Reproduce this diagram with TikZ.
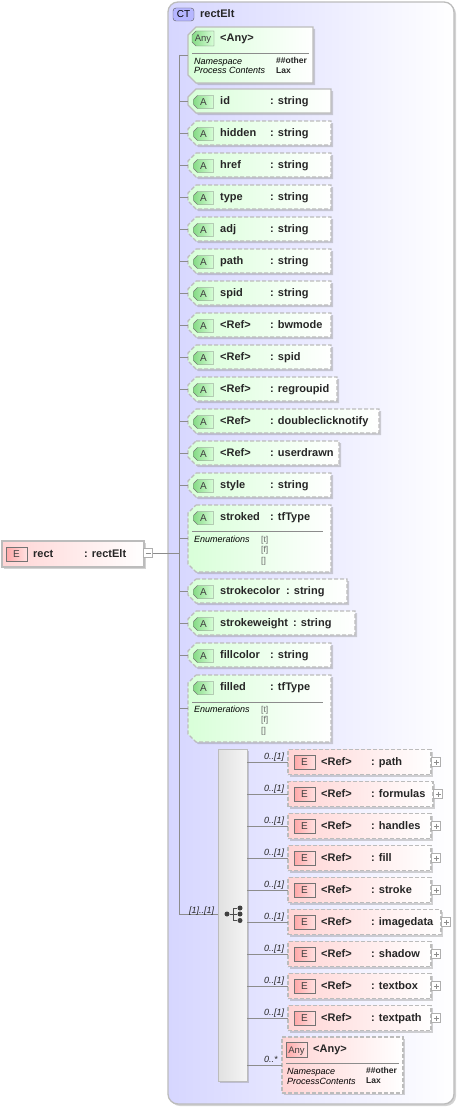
\documentclass[tikz,border=0pt]{standalone}
\usepackage{fontspec}
\setmainfont{Liberation Sans}
\usepackage{xcolor}
\usetikzlibrary{shadows}
\definecolor{edgeGray}{HTML}{BCBCBC}
\definecolor{lineGray}{HTML}{8C8C8C}
\definecolor{lavender}{HTML}{D6D6FF}
\definecolor{paleGreen}{HTML}{D8FFD8}
\definecolor{palePink}{HTML}{FFD4D4}
\definecolor{badgeGreen}{HTML}{86DA86}
\definecolor{badgePink}{HTML}{FFA8A8}
\definecolor{inkDark}{HTML}{262626}

% box with the two left corners cut off
\tikzset{cutSize/.store in=\tagCut, cutSize=8pt}
\makeatletter
\pgfdeclareshape{tagBox}{
  \inheritsavedanchors[from=rectangle]
  \inheritanchorborder[from=rectangle]
  \inheritanchor[from=rectangle]{center}
  \inheritanchor[from=rectangle]{north}
  \inheritanchor[from=rectangle]{south}
  \inheritanchor[from=rectangle]{west}
  \inheritanchor[from=rectangle]{east}
  \inheritanchor[from=rectangle]{base}
  \backgroundpath{
    \southwest \pgf@xa=\pgf@x \pgf@ya=\pgf@y
    \northeast \pgf@xb=\pgf@x \pgf@yb=\pgf@y
    \pgf@xc=\pgf@xa \advance\pgf@xc by \tagCut
    \pgf@yc=\pgf@ya \advance\pgf@yc by \tagCut
    \pgf@yd=\pgf@yb \advance\pgf@yd by -\tagCut
    \pgfpathmoveto{\pgfqpoint{\pgf@xc}{\pgf@yb}}
    \pgfpathlineto{\pgfqpoint{\pgf@xb}{\pgf@yb}}
    \pgfpathlineto{\pgfqpoint{\pgf@xb}{\pgf@ya}}
    \pgfpathlineto{\pgfqpoint{\pgf@xc}{\pgf@ya}}
    \pgfpathlineto{\pgfqpoint{\pgf@xa}{\pgf@yc}}
    \pgfpathlineto{\pgfqpoint{\pgf@xa}{\pgf@yd}}
    \pgfpathclose
  }
}
\makeatother

\begin{document}
\begin{tikzpicture}[x=1pt, y=-1pt,
    softShadow/.style={drop shadow={shadow xshift=2pt, shadow yshift=-2pt, fill=gray, opacity=0.35}},
    ctBox/.style={rectangle, draw=edgeGray, line width=1.3pt, rounded corners=10pt, left color=lavender, right color=white, softShadow, minimum width=286pt, minimum height=1102pt, anchor=north west, inner sep=0pt, outer sep=0pt},
    ctBadge/.style={rectangle, draw=black!65, fill=lavender!85!blue, rounded corners=3pt, minimum width=21pt, minimum height=13pt, inner sep=0pt, text height=7pt, text depth=0pt, font=\fontsize{10}{12}\selectfont},
    attr/.style={tagBox, cutSize=8pt, draw=edgeGray, line width=1.1pt, left color=paleGreen, right color=white, softShadow, minimum height=24pt, anchor=west, inner sep=0pt, outer sep=0pt},
    attrOpt/.style={attr, dash pattern=on 4pt off 2pt},
    attrBadge/.style={tagBox, cutSize=4pt, draw=black!55, left color=badgeGreen, right color=paleGreen, minimum width=20pt, minimum height=13pt, inner sep=0pt, outer sep=0pt, text height=7pt, text depth=0pt, text=black!75, font=\fontsize{10}{12}\selectfont},
    refBox/.style={rectangle, draw=edgeGray, line width=1.1pt, dash pattern=on 4pt off 2pt, left color=palePink, right color=white, softShadow, minimum height=25pt, anchor=west, inner sep=0pt, outer sep=0pt},
    elemBadge/.style={rectangle, draw=black!55, left color=badgePink, right color=palePink!70, minimum width=21pt, minimum height=14pt, inner sep=0pt, text height=7pt, text depth=0pt, text=black!75, font=\fontsize{10}{12}\selectfont},
    elemBox/.style={rectangle, draw=edgeGray, line width=1.1pt, left color=palePink, right color=white, softShadow, minimum height=26pt, anchor=west, inner sep=0pt, outer sep=0pt},
    seqBox/.style={rectangle, draw=edgeGray, line width=1pt, left color=black!12, right color=black!4, softShadow, minimum width=29pt, minimum height=332pt, inner sep=0pt, outer sep=0pt},
    expander/.style={rectangle, draw=lineGray!70, fill=white, minimum size=9pt, inner sep=0pt, line width=0.6pt},
    plusSign/.style={expander, path picture={\draw[lineGray] ([xshift=2pt]path picture bounding box.west) -- ([xshift=-2pt]path picture bounding box.east); \draw[lineGray] ([yshift=-2pt]path picture bounding box.north) -- ([yshift=2pt]path picture bounding box.south);}},
    minusSign/.style={expander, path picture={\draw[lineGray] ([xshift=2pt]path picture bounding box.west) -- ([xshift=-2pt]path picture bounding box.east);}},
    dotNode/.style={circle, fill=black!75, minimum size=5pt, inner sep=0pt},
    nameText/.style={anchor=base west, inner sep=0pt, text=inkDark, font=\bfseries\fontsize{11}{13}\selectfont},
    smallKey/.style={anchor=base west, inner sep=0pt, text=black, font=\itshape\fontsize{9}{11}\selectfont},
    smallVal/.style={anchor=base west, inner sep=0pt, text=inkDark, font=\bfseries\fontsize{8.5}{10}\selectfont},
    enumVal/.style={anchor=base west, inner sep=0pt, text=black!60, font=\fontsize{8.5}{10}\selectfont},
    multText/.style={anchor=base west, inner sep=0pt, text=inkDark, font=\itshape\fontsize{9}{11}\selectfont},
    conn/.style={draw=lineGray, line width=0.8pt}
]
\useasboundingbox (0,0) rectangle (458,1108);

% Complex type frame
\node[ctBox] (frame) at (168,2) {};
\node[ctBadge] (ctTag) at (183.5,14.5) {CT};
\node[nameText] (ctName) at (200,18) {rectElt};

% Root element
\node[elemBox, minimum width=142pt] (rect) at (2,554) {};
\node[elemBadge] (rectTag) at (16.5,554) {E};
\node[nameText] (rectName) at (33,557) {rect}; \node[nameText] (rectType) at (84,557) {: rectElt};
\node[minusSign] (rectMinus) at (148,553) {};

% Any attribute - top
\node[attr, minimum width=125pt, minimum height=56pt] (anyTop) at (188,55) {};
\node[attrBadge, minimum width=22pt, minimum height=15pt, font=\fontsize{9.5}{12}\selectfont] (anyTopTag) at (203,38.5) {Any};
\node[nameText] (anyTopName) at (220,42) {<Any>};
\draw[conn] (192,53) coordinate (anyRuleA) -- (309,53) coordinate (anyRuleB);
\node[smallKey] (anyTopKeyA) at (194,64) {Namespace}; \node[smallVal] (anyTopValA) at (276,63.5) {\#\#other};
\node[smallKey] (anyTopKeyB) at (194,74) {Process Contents}; \node[smallVal] (anyTopValB) at (276,73.5) {Lax};

% Attributes
\node[attr, minimum width=143pt] (aId) at (188,101) {}; \node[attrBadge] (aIdTag) at (203.5,102) {A};
\node[nameText] (aIdName) at (220,104) {id}; \node[nameText] (aIdType) at (270,104) {: string};
\node[attrOpt, minimum width=143pt] (aHidden) at (188,133) {}; \node[attrBadge] (aHiddenTag) at (203.5,134) {A};
\node[nameText] (aHiddenName) at (220,136) {hidden}; \node[nameText] (aHiddenType) at (270,136) {: string};
\node[attrOpt, minimum width=143pt] (aHref) at (188,165) {}; \node[attrBadge] (aHrefTag) at (203.5,166) {A};
\node[nameText] (aHrefName) at (220,168) {href}; \node[nameText] (aHrefType) at (270,168) {: string};
\node[attrOpt, minimum width=143pt] (aType) at (188,197) {}; \node[attrBadge] (aTypeTag) at (203.5,198) {A};
\node[nameText] (aTypeName) at (220,200) {type}; \node[nameText] (aTypeType) at (270,200) {: string};
\node[attrOpt, minimum width=143pt] (aAdj) at (188,229) {}; \node[attrBadge] (aAdjTag) at (203.5,230) {A};
\node[nameText] (aAdjName) at (220,232) {adj}; \node[nameText] (aAdjType) at (270,232) {: string};
\node[attrOpt, minimum width=143pt] (aPath) at (188,261) {}; \node[attrBadge] (aPathTag) at (203.5,262) {A};
\node[nameText] (aPathName) at (220,264) {path}; \node[nameText] (aPathType) at (270,264) {: string};
\node[attrOpt, minimum width=143pt] (aSpid) at (188,293) {}; \node[attrBadge] (aSpidTag) at (203.5,294) {A};
\node[nameText] (aSpidName) at (220,296) {spid}; \node[nameText] (aSpidType) at (270,296) {: string};
\node[attrOpt, minimum width=143pt] (rBwmode) at (188,325) {}; \node[attrBadge] (rBwmodeTag) at (203.5,326) {A};
\node[nameText] (rBwmodeName) at (220,328) {<Ref>}; \node[nameText] (rBwmodeType) at (270,328) {: bwmode};
\node[attrOpt, minimum width=143pt] (rSpid) at (188,357) {}; \node[attrBadge] (rSpidTag) at (203.5,358) {A};
\node[nameText] (rSpidName) at (220,360) {<Ref>}; \node[nameText] (rSpidType) at (270,360) {: spid};
\node[attrOpt, minimum width=149pt] (rRegroup) at (188,389) {}; \node[attrBadge] (rRegroupTag) at (203.5,390) {A};
\node[nameText] (rRegroupName) at (220,392) {<Ref>}; \node[nameText] (rRegroupType) at (270,392) {: regroupid};
\node[attrOpt, minimum width=191pt] (rDouble) at (188,421) {}; \node[attrBadge] (rDoubleTag) at (203.5,422) {A};
\node[nameText] (rDoubleName) at (220,424) {<Ref>}; \node[nameText] (rDoubleType) at (270,424) {: doubleclicknotify};
\node[attrOpt, minimum width=151pt] (rUser) at (188,453) {}; \node[attrBadge] (rUserTag) at (203.5,454) {A};
\node[nameText] (rUserName) at (220,456) {<Ref>}; \node[nameText] (rUserType) at (270,456) {: userdrawn};
\node[attrOpt, minimum width=143pt] (aStyle) at (188,485) {}; \node[attrBadge] (aStyleTag) at (203.5,486) {A};
\node[nameText] (aStyleName) at (220,488) {style}; \node[nameText] (aStyleType) at (270,488) {: string};

% Enumerated attribute - stroked
\node[attrOpt, minimum width=143pt, minimum height=67pt] (aStroked) at (188,538.5) {}; \node[attrBadge] (aStrokedTag) at (203.5,518) {A};
\node[nameText] (aStrokedName) at (220,520) {stroked}; \node[nameText] (aStrokedType) at (270,520) {: tfType};
\draw[conn] (192,531) coordinate (strokedRuleA) -- (323,531) coordinate (strokedRuleB);
\node[smallKey] (aStrokedKey) at (194,542) {Enumerations};
\node[enumVal] (aStrokedT) at (261,542) {[t]}; \node[enumVal] (aStrokedF) at (261,552) {[f]}; \node[enumVal] (aStrokedE) at (261,563) {[]};

\node[attrOpt, minimum width=159pt] (aStrokeColor) at (188,591) {}; \node[attrBadge] (aStrokeColorTag) at (203.5,592) {A};
\node[nameText] (aStrokeColorName) at (220,594) {strokecolor}; \node[nameText] (aStrokeColorType) at (286,594) {: string};
\node[attrOpt, minimum width=167pt] (aStrokeWeight) at (188,623) {}; \node[attrBadge] (aStrokeWeightTag) at (203.5,624) {A};
\node[nameText] (aStrokeWeightName) at (220,626) {strokeweight}; \node[nameText] (aStrokeWeightType) at (293,626) {: string};
\node[attrOpt, minimum width=143pt] (aFillColor) at (188,655) {}; \node[attrBadge] (aFillColorTag) at (203.5,656) {A};
\node[nameText] (aFillColorName) at (220,658) {fillcolor}; \node[nameText] (aFillColorType) at (270,658) {: string};

% Enumerated attribute - filled
\node[attrOpt, minimum width=143pt, minimum height=67pt] (aFilled) at (188,708.5) {}; \node[attrBadge] (aFilledTag) at (203.5,688) {A};
\node[nameText] (aFilledName) at (220,690) {filled}; \node[nameText] (aFilledType) at (270,690) {: tfType};
\draw[conn] (192,702) coordinate (filledRuleA) -- (323,702) coordinate (filledRuleB);
\node[smallKey] (aFilledKey) at (194,712) {Enumerations};
\node[enumVal] (aFilledT) at (261,712) {[t]}; \node[enumVal] (aFilledF) at (261,722) {[f]}; \node[enumVal] (aFilledE) at (261,733) {[]};

% Sequence compositor
\node[seqBox] (seq) at (232.5,915) {};
\node[dotNode] (seqRoot) at (227,914) {};
\node[dotNode] (seqTop) at (240,908) {}; \node[dotNode] (seqMid) at (240,914) {}; \node[dotNode] (seqLow) at (240,920.5) {};
\draw[black!70, line width=0.8pt] (seqRoot) -- (seqMid);
\draw[black!70, line width=0.8pt] (seqTop) -| (233,920.5) -- (seqLow);

% Child elements
\node[refBox, minimum width=143pt] (ePath) at (288,762) {}; \node[elemBadge] (ePathTag) at (304.5,762) {E};
\node[nameText] (ePathName) at (321,765) {<Ref>}; \node[nameText] (ePathType) at (371,765) {: path}; \node[plusSign] (ePathPlus) at (436,762) {};
\node[refBox, minimum width=145pt] (eFormulas) at (288,794) {}; \node[elemBadge] (eFormulasTag) at (304.5,794) {E};
\node[nameText] (eFormulasName) at (321,797) {<Ref>}; \node[nameText] (eFormulasType) at (371,797) {: formulas}; \node[plusSign] (eFormulasPlus) at (438,794) {};
\node[refBox, minimum width=143pt] (eHandles) at (288,826) {}; \node[elemBadge] (eHandlesTag) at (304.5,826) {E};
\node[nameText] (eHandlesName) at (321,829) {<Ref>}; \node[nameText] (eHandlesType) at (371,829) {: handles}; \node[plusSign] (eHandlesPlus) at (436,826) {};
\node[refBox, minimum width=143pt] (eFill) at (288,858) {}; \node[elemBadge] (eFillTag) at (304.5,858) {E};
\node[nameText] (eFillName) at (321,861) {<Ref>}; \node[nameText] (eFillType) at (371,861) {: fill}; \node[plusSign] (eFillPlus) at (436,858) {};
\node[refBox, minimum width=143pt] (eStroke) at (288,890) {}; \node[elemBadge] (eStrokeTag) at (304.5,890) {E};
\node[nameText] (eStrokeName) at (321,893) {<Ref>}; \node[nameText] (eStrokeType) at (371,893) {: stroke}; \node[plusSign] (eStrokePlus) at (436,890) {};
\node[refBox, minimum width=153pt] (eImage) at (288,922) {}; \node[elemBadge] (eImageTag) at (304.5,922) {E};
\node[nameText] (eImageName) at (321,925) {<Ref>}; \node[nameText] (eImageType) at (371,925) {: imagedata}; \node[plusSign] (eImagePlus) at (446,922) {};
\node[refBox, minimum width=143pt] (eShadow) at (288,954) {}; \node[elemBadge] (eShadowTag) at (304.5,954) {E};
\node[nameText] (eShadowName) at (321,957) {<Ref>}; \node[nameText] (eShadowType) at (371,957) {: shadow}; \node[plusSign] (eShadowPlus) at (436,954) {};
\node[refBox, minimum width=143pt] (eTextbox) at (288,986) {}; \node[elemBadge] (eTextboxTag) at (304.5,986) {E};
\node[nameText] (eTextboxName) at (321,989) {<Ref>}; \node[nameText] (eTextboxType) at (371,989) {: textbox}; \node[plusSign] (eTextboxPlus) at (436,986) {};
\node[refBox, minimum width=143pt] (eTextpath) at (288,1018) {}; \node[elemBadge] (eTextpathTag) at (304.5,1018) {E};
\node[nameText] (eTextpathName) at (321,1021) {<Ref>}; \node[nameText] (eTextpathType) at (371,1021) {: textpath}; \node[plusSign] (eTextpathPlus) at (436,1018) {};

% Any element - bottom
\node[refBox, minimum width=121pt, minimum height=56pt] (anyLow) at (282,1065) {};
\node[elemBadge, minimum height=15pt, font=\fontsize{9.5}{12}\selectfont] (anyLowTag) at (296.5,1049.5) {Any};
\node[nameText] (anyLowName) at (313,1052) {<Any>};
\draw[conn] (286,1063) coordinate (anyLowRuleA) -- (399,1063) coordinate (anyLowRuleB);
\node[smallKey] (anyLowKeyA) at (287,1074) {Namespace}; \node[smallVal] (anyLowValA) at (366,1073) {\#\#other};
\node[smallKey] (anyLowKeyB) at (287,1084) {ProcessContents}; \node[smallVal] (anyLowValB) at (366,1083) {Lax};

% Spine and ticks
\coordinate (spine) at (179,55);
\coordinate (spineEnd) at (179,914);
\draw[conn] (spine) -- (spineEnd) -- (seq.west |- spineEnd);
\draw[conn] (rectMinus) -- (spine |- rectMinus);
\draw[conn] (spine) -- (anyTop);
\draw[conn] (spine |- aId) -- (aId);
\draw[conn] (spine |- aHidden) -- (aHidden);
\draw[conn] (spine |- aHref) -- (aHref);
\draw[conn] (spine |- aType) -- (aType);
\draw[conn] (spine |- aAdj) -- (aAdj);
\draw[conn] (spine |- aPath) -- (aPath);
\draw[conn] (spine |- aSpid) -- (aSpid);
\draw[conn] (spine |- rBwmode) -- (rBwmode);
\draw[conn] (spine |- rSpid) -- (rSpid);
\draw[conn] (spine |- rRegroup) -- (rRegroup);
\draw[conn] (spine |- rDouble) -- (rDouble);
\draw[conn] (spine |- rUser) -- (rUser);
\draw[conn] (spine |- aStyle) -- (aStyle);
\draw[conn] (spine |- aStroked) -- (aStroked);
\draw[conn] (spine |- aStrokeColor) -- (aStrokeColor);
\draw[conn] (spine |- aStrokeWeight) -- (aStrokeWeight);
\draw[conn] (spine |- aFillColor) -- (aFillColor);
\draw[conn] (spine |- aFilled) -- (aFilled);
\node[multText] (seqMult) at (189,913) {[1]..[1]};

% Compositor links
\draw[conn] (seq.east |- ePath) -- (ePath);
\draw[conn] (seq.east |- eFormulas) -- (eFormulas);
\draw[conn] (seq.east |- eHandles) -- (eHandles);
\draw[conn] (seq.east |- eFill) -- (eFill);
\draw[conn] (seq.east |- eStroke) -- (eStroke);
\draw[conn] (seq.east |- eImage) -- (eImage);
\draw[conn] (seq.east |- eShadow) -- (eShadow);
\draw[conn] (seq.east |- eTextbox) -- (eTextbox);
\draw[conn] (seq.east |- eTextpath) -- (eTextpath);
\draw[conn] (seq.east |- anyLow) -- (anyLow);
\node[multText] (multPath) at (264,759) {0..[1]};
\node[multText] (multFormulas) at (264,791) {0..[1]};
\node[multText] (multHandles) at (264,823) {0..[1]};
\node[multText] (multFill) at (264,855) {0..[1]};
\node[multText] (multStroke) at (264,887) {0..[1]};
\node[multText] (multImage) at (264,919) {0..[1]};
\node[multText] (multShadow) at (264,951) {0..[1]};
\node[multText] (multTextbox) at (264,983) {0..[1]};
\node[multText] (multTextpath) at (264,1015) {0..[1]};
\node[multText] (multAny) at (264,1062) {0..*};

\end{tikzpicture}
\end{document}
